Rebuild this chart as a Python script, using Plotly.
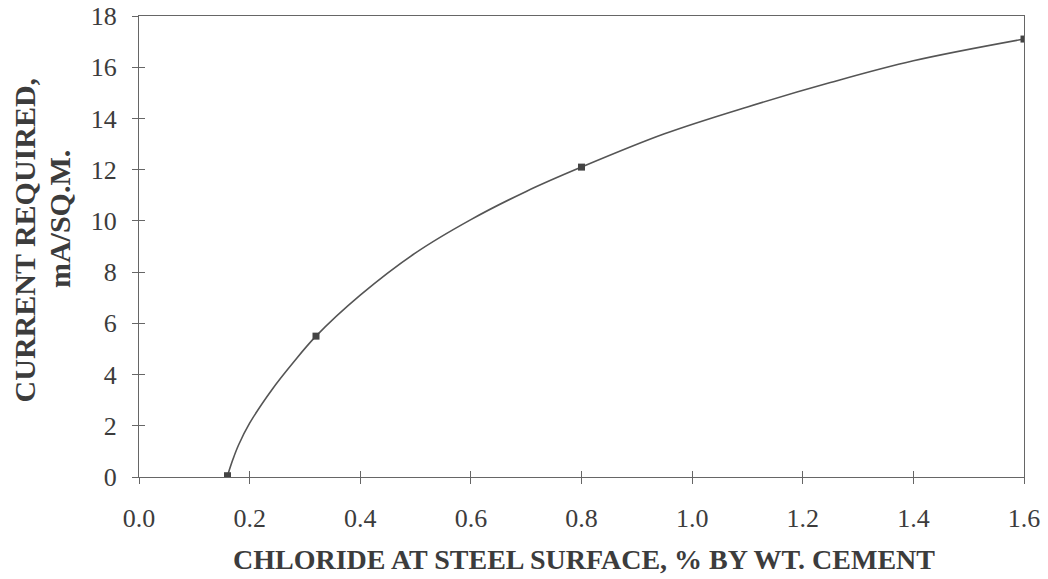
import plotly.graph_objects as go

# Measured data points
point_x = [0.16, 0.32, 0.80, 1.60]
point_y = [0.05, 5.5, 12.1, 17.1]

# Smooth curve
curve_x = [0.16, 0.17, 0.18, 0.20, 0.24, 0.28, 0.32, 0.40, 0.50, 0.60, 0.70, 0.80,
           0.95, 1.10, 1.25, 1.40, 1.60]
curve_y = [0.05, 0.7, 1.25, 2.1, 3.4, 4.5, 5.5, 7.1, 8.75, 10.05, 11.15, 12.1,
           13.4, 14.45, 15.4, 16.25, 17.1]

x_ticks = [0.0, 0.2, 0.4, 0.6, 0.8, 1.0, 1.2, 1.4, 1.6]
x_tick_text = ["0.0", "0.2", "0.4", "0.6", "0.8", "1.0", "1.2", "1.4", "1.6"]
y_ticks = [0, 2, 4, 6, 8, 10, 12, 14, 16, 18]

x_title = "CHLORIDE AT STEEL SURFACE, % BY WT. CEMENT"
y_title_1 = "CURRENT REQUIRED,"
y_title_2 = "mA/SQ.M."

FONT = "Liberation Serif, Times New Roman, serif"
AX = "#666666"
TXT = "#3c3c3c"

fig = go.Figure()
fig.add_trace(go.Scatter(x=curve_x, y=curve_y, mode="lines",
                         line=dict(color="#555555", width=1.6, shape="spline", smoothing=1.0),
                         hoverinfo="skip", showlegend=False))
fig.add_trace(go.Scatter(x=point_x, y=point_y, mode="markers",
                         marker=dict(symbol="square", size=7, color="#444444"),
                         showlegend=False))
# invisible trace for overlay axes (inside ticks)
fig.add_trace(go.Scatter(x=[0, 1.6], y=[0, 18], xaxis="x2", yaxis="y2", mode="markers",
                         marker=dict(opacity=0), hoverinfo="skip", showlegend=False))

common = dict(showgrid=False, zeroline=False, showline=True, linecolor=AX, linewidth=1,
              ticklen=6, tickcolor=AX, tickwidth=1, automargin=False)

fig.update_layout(
    width=1048, height=579,
    margin=dict(l=139, r=24, t=16, b=102),
    paper_bgcolor="white", plot_bgcolor="white",
    font=dict(family=FONT, color=TXT, size=26),
    xaxis=dict(range=[0, 1.6], tickvals=x_ticks, ticktext=x_tick_text, ticks="outside",
               mirror=True, tickfont=dict(size=26, color=TXT), ticklabelstandoff=12,
               **common),
    yaxis=dict(range=[0, 18], tickvals=y_ticks, ticks="outside", mirror=True,
               tickfont=dict(size=26, color=TXT), ticklabelstandoff=10, **common),
    xaxis2=dict(range=[0, 1.6], overlaying="x", tickvals=x_ticks, ticks="inside",
                showticklabels=False, showgrid=False, zeroline=False, showline=False,
                ticklen=6, tickcolor=AX, tickwidth=1),
    yaxis2=dict(range=[0, 18], overlaying="y", tickvals=y_ticks, ticks="inside",
                showticklabels=False, showgrid=False, zeroline=False, showline=False,
                ticklen=6, tickcolor=AX, tickwidth=1),
)

fig.add_annotation(text="<b>" + x_title + "</b>", xref="paper", yref="paper",
                   x=0.503, y=-0.178, xanchor="center", yanchor="middle", showarrow=False,
                   font=dict(size=28, color=TXT, family=FONT))
fig.add_annotation(text="<b>" + y_title_1 + "</b>", textangle=-90, xref="paper", yref="paper",
                   x=-0.129, y=0.515, xanchor="center", yanchor="middle", showarrow=False,
                   font=dict(size=30, color=TXT, family=FONT))
fig.add_annotation(text="<b>" + y_title_2 + "</b>", textangle=-90, xref="paper", yref="paper",
                   x=-0.089, y=0.56, xanchor="center", yanchor="middle", showarrow=False,
                   font=dict(size=30, color=TXT, family=FONT))

fig.write_html("out.html")
